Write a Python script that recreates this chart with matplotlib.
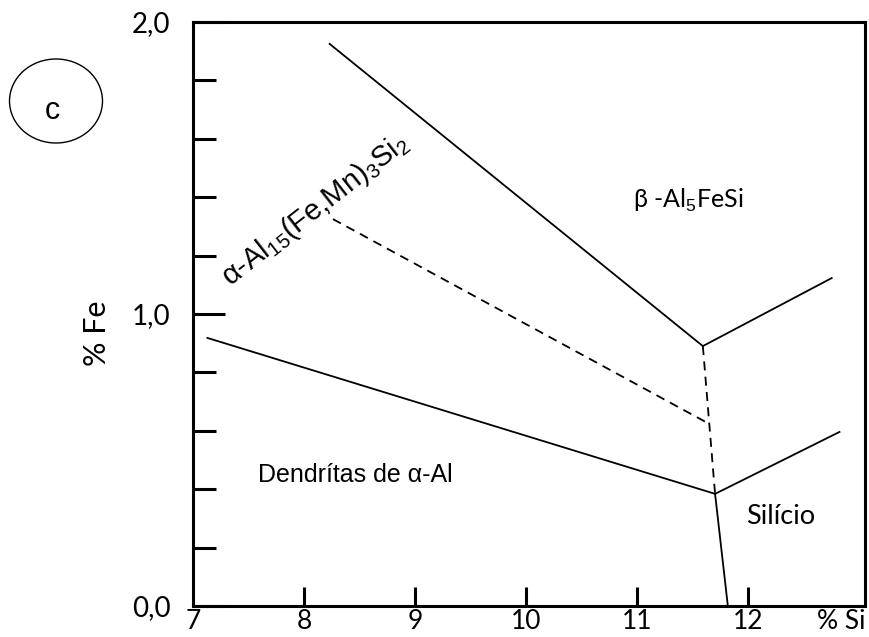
#!/usr/bin/env python3
"""
Al-Si-Fe liquidus projection sketch (% Si vs % Fe).
"""

import matplotlib
matplotlib.use("Agg")
import matplotlib.pyplot as plt
from matplotlib.patches import Ellipse
from matplotlib.ticker import MultipleLocator

plt.rcParams["mathtext.fontset"] = "custom"
plt.rcParams["mathtext.rm"] = "Liberation Sans"
plt.rcParams["mathtext.it"] = "Liberation Sans:italic"

# valley lines, (% Si, % Fe)
beta_si = [8.23, 11.59, 12.75]
beta_fe = [1.925, 0.89, 1.123]

alpha_al_si = [7.13, 11.70, 12.82]
alpha_al_fe = [0.918, 0.384, 0.596]

silicon_si = [11.70, 11.815]
silicon_fe = [0.384, 0.0]

# dashed boundaries of the alpha-Al15(Fe,Mn)3Si2 field
alpha_fe_si = [8.26, 11.65]
alpha_fe_fe = [1.325, 0.623]

mid_si = [11.59, 11.70]
mid_fe = [0.89, 0.384]

x_ticks = [7, 8, 9, 10, 11, 12]
x_labels = ["7", "8", "9", "10", "11", "12"]
y_ticks = [0.0, 1.0, 2.0]
y_labels = ["0,0", "1,0", "2,0"]

TICK_FONT = "Lato"
TEXT_FONT = "Liberation Sans"


def main():
    fig = plt.figure(figsize=(8.7, 6.37), dpi=100)
    ax = fig.add_axes([0.2218, 0.0487, 0.9943 - 0.2218, 0.9655 - 0.0487])

    ax.set_xlim(7, 13.05)
    ax.set_ylim(0, 2.0)

    lw = 1.3
    dash = (0, (5, 3.5))
    ax.plot(beta_si, beta_fe, color="black", lw=lw)
    ax.plot(alpha_al_si, alpha_al_fe, color="black", lw=lw)
    ax.plot(silicon_si, silicon_fe, color="black", lw=lw)
    ax.plot(alpha_fe_si, alpha_fe_fe, color="black", lw=lw, ls=dash)
    ax.plot(mid_si, mid_fe, color="black", lw=lw, ls=dash)

    for sp in ax.spines.values():
        sp.set_linewidth(2.2)

    # x axis: ticks inside, no tick mark drawn at the corner
    ax.set_xticks(x_ticks)
    ax.set_xticklabels(x_labels, fontfamily=TICK_FONT, fontsize=19)
    ax.tick_params(axis="x", direction="in", length=14, width=2.2, pad=2)
    ax.xaxis.get_major_ticks()[0].tick1line.set_visible(False)

    ax.set_yticks(y_ticks)
    ax.set_yticklabels(y_labels, fontfamily=TICK_FONT, fontsize=20)
    ax.yaxis.set_minor_locator(MultipleLocator(0.2))
    ax.tick_params(axis="y", which="major", direction="in", length=23,
                   width=2.2, pad=16)
    ax.tick_params(axis="y", which="minor", direction="in", length=16.5,
                   width=2.2)

    ax.text(12.62, -0.012, "% Si", fontfamily=TICK_FONT, fontsize=19,
            ha="left", va="top", clip_on=False)
    fig.text(97 / 870, 1 - 333 / 637, "% Fe", fontfamily=TICK_FONT,
             fontsize=22, rotation=90, ha="center", va="center")

    # phase field labels
    ax.text(11.455, 1.39, r"β -Al$_5$FeSi", fontfamily=TICK_FONT,
            fontsize=18, ha="center", va="center")
    ax.text(12.29, 0.305, "Silício", fontfamily=TICK_FONT, fontsize=19.5,
            ha="center", va="center")
    ax.text(8.46, 0.45, "Dendrítas de α-Al", fontfamily=TEXT_FONT,
            fontsize=18, ha="center", va="center")
    ax.text(8.10, 1.356, r"α-Al$_{15}$(Fe,Mn)$_3$Si$_2$", fontfamily=TEXT_FONT,
            fontsize=21, rotation=38, ha="center", va="center",
            rotation_mode="anchor")

    # panel letter
    fig.patches.append(Ellipse((56 / 870, 1 - 101 / 637), 93 / 870, 84 / 637,
                               transform=fig.transFigure, fill=False,
                               ec="black", lw=1.0))
    fig.text(52 / 870, 1 - 111 / 637, "c", fontfamily=TEXT_FONT, fontsize=22,
             ha="center", va="center")

    fig.savefig("out.png", dpi=100)


if __name__ == "__main__":
    main()
